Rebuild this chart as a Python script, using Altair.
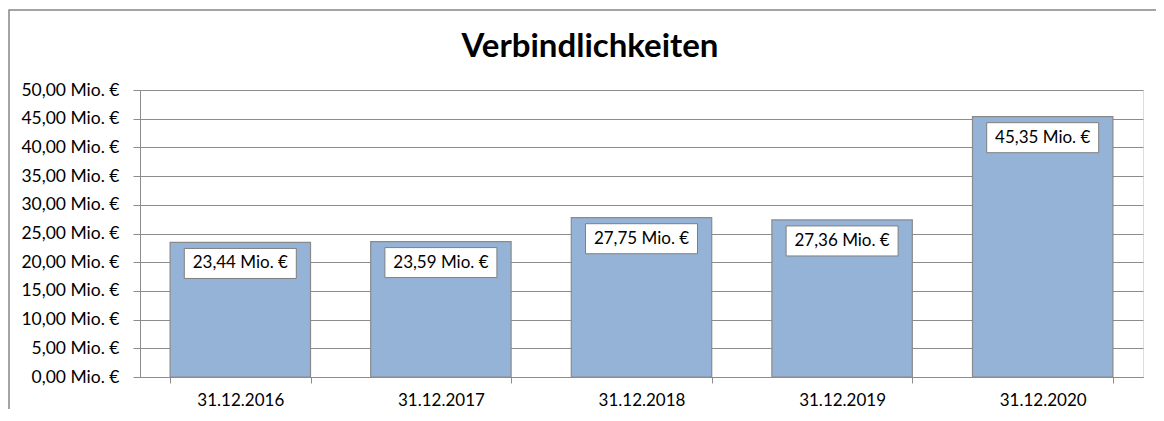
import altair as alt
import pandas as pd

categories = ["31.12.2016", "31.12.2017", "31.12.2018", "31.12.2019", "31.12.2020"]
values = [23.44, 23.59, 27.75, 27.36, 45.35]
labels = [f"{v:.2f}".replace(".", ",") + " Mio. €" for v in values]
title_text = ["Verbindlichkeiten"]

df = pd.DataFrame({"Stichtag": categories, "Wert": values, "Label": labels})

FONT = "Lato"
GRAY = "#8c8c8c"
W, H = 1003, 287

x = alt.X("Stichtag:N", sort=categories, title=None,
          scale=alt.Scale(paddingInner=0.3, paddingOuter=0.15),
          axis=alt.Axis(labelAngle=0, labelFont=FONT, labelFontSize=17, labelColor="black",
                        labelPadding=9, tickBand="extent", tickSize=6, tickColor=GRAY,
                        domainColor=GRAY, grid=False))
y = alt.Y("Wert:Q", title=None,
          scale=alt.Scale(domain=[0, 50], nice=False),
          axis=alt.Axis(values=[0, 5, 10, 15, 20, 25, 30, 35, 40, 45, 50], labelOverlap=False,
                        labelExpr="replace(format(datum.value, '.2f'), '.', ',') + ' Mio. €'",
                        labelFont=FONT, labelFontSize=17.5, labelColor="black", labelPadding=14,
                        tickSize=7, tickColor=GRAY, domainColor=GRAY,
                        grid=True, gridColor=GRAY, gridWidth=1))

frame = alt.Chart(pd.DataFrame({"a": [0]})).mark_rect(
    fill=None, stroke="#868686", strokeWidth=1.5, clip=False
).encode(x=alt.value(-131), x2=alt.value(W + 80), y=alt.value(-80), y2=alt.value(H + 80))

title = alt.Chart(pd.DataFrame({"t": title_text})).mark_text(
    font=FONT, fontSize=33, fontWeight="bold", color="black", align="center",
    baseline="alphabetic", clip=False
).encode(x=alt.value(450), y=alt.value(-33), text="t:N")

base = alt.Chart(df).encode(x=x, y=y)

bars = base.mark_bar(color="#95B3D7", stroke="#8a8a8a", strokeWidth=1.2)

box = base.mark_point(
    shape="M-1,-0.268L1,-0.268L1,0.268L-1,0.268Z", size=112 * 112, filled=True,
    fill="white", stroke="#7f7f7f", strokeWidth=1, opacity=1, yOffset=21
)

text = base.mark_text(
    font=FONT, fontSize=17, color="black", baseline="middle", align="center", yOffset=21
).encode(text="Label:N")

chart = alt.layer(frame, title, bars, box, text).properties(
    width=W, height=H,
    autosize=alt.AutoSizeParams(type="none"),
    padding={"left": 132, "top": 82, "right": 13, "bottom": 32},
).configure_view(stroke=None).configure(background="white")

chart.save("out.html", embed_options={"renderer": "svg", "actions": False})
